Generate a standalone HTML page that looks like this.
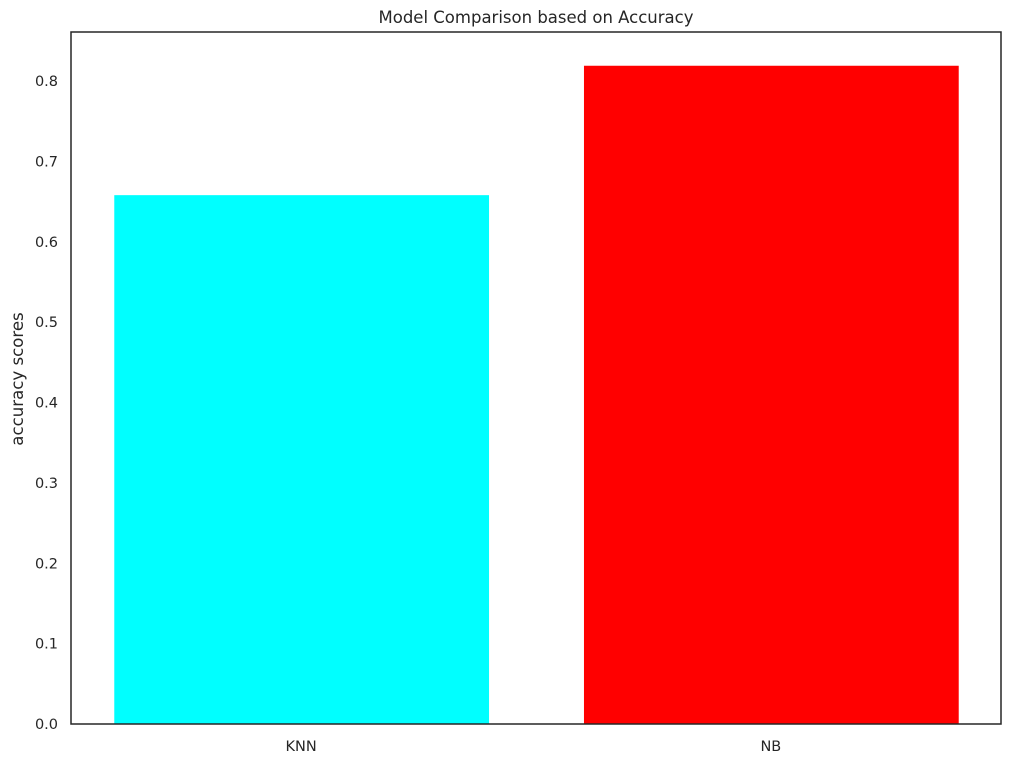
<!DOCTYPE html>
<html><head><meta charset="utf-8"><style>
body{margin:0;background:#fff;}
svg text{font-family:"DejaVu Sans","Liberation Sans",sans-serif;fill:#262626;}
</style></head><body>
<svg id="chart" width="1011" height="763" xmlns="http://www.w3.org/2000/svg">
<text x="536" y="23" text-anchor="middle" font-size="16.5">Model Comparison based on Accuracy</text>
<text transform="translate(23,379) rotate(-90)" text-anchor="middle" font-size="16.6">accuracy scores</text>
<g id="bars"></g><g id="ticks"></g>
<rect x="71" y="32" width="930" height="692" fill="none" stroke="#262626" stroke-width="1.5"/>
</svg>
<script>
const categories=["KNN","NB"];
const values=[0.658,0.819];
const colors=["#00ffff","#ff0000"];
const yTicks=[0,0.1,0.2,0.3,0.4,0.5,0.6,0.7,0.8];
const L=71,R=1001,T=32,B=724,yMax=0.861,xMin=-0.49,xMax=1.49;
const ns="http://www.w3.org/2000/svg";
const y=v=>B-(v/yMax)*(B-T);
const x=v=>L+(v-xMin)/(xMax-xMin)*(R-L);
const bars=document.getElementById('bars'),ticks=document.getElementById('ticks');
categories.forEach((c,i)=>{
 const r=document.createElementNS(ns,'rect');
 const w=x(0.4)-x(-0.4);
 r.setAttribute('x',x(i-0.4)+1);r.setAttribute('width',w-1);
 r.setAttribute('y',y(values[i]));r.setAttribute('height',y(0)-y(values[i]));
 r.setAttribute('fill',colors[i]);
 
 
 bars.appendChild(r);
 const t=document.createElementNS(ns,'text');
 t.setAttribute('x',x(i));t.setAttribute('y',751);t.setAttribute('text-anchor','middle');t.setAttribute('font-size','14.5');
 t.textContent=c;
 
 
 ticks.appendChild(t);
});
yTicks.forEach(v=>{
 const t=document.createElementNS(ns,'text');
 t.setAttribute('x',58);t.setAttribute('y',y(v)+5);t.setAttribute('text-anchor','end');t.setAttribute('font-size','14.5');
 t.textContent=v.toFixed(1);
 
 
 ticks.appendChild(t);
});
</script>
</body></html>
